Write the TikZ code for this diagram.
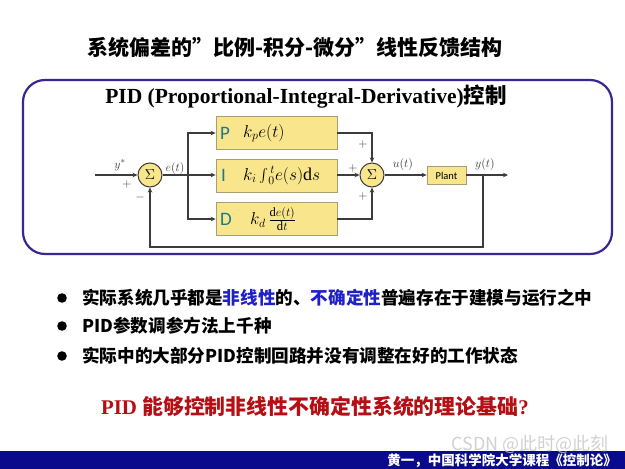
\documentclass[tikz,border=0pt]{standalone}
\usepackage{fontspec}
\setmainfont{Liberation Serif}
\newfontfamily\cjk{Noto Sans CJK SC}
\newfontfamily\calfont{Carlito}
\usetikzlibrary{arrows.meta}
\definecolor{boxy}{HTML}{F8E58C}
\definecolor{boxedge}{HTML}{A89E70}
\definecolor{lnc}{HTML}{3C3C3C}
\definecolor{teal2}{HTML}{1A7A8A}
\definecolor{blu}{HTML}{2020C8}
\definecolor{redq}{HTML}{B40F14}
\definecolor{barc}{HTML}{0A0A8C}
\definecolor{framec}{HTML}{3B2590}
\begin{document}
\begin{tikzpicture}[x=1pt,y=-1pt,
  ln/.style={draw=lnc, line width=1.1pt},
  arr/.style={ln, -{Stealth[length=5pt,width=4.5pt]}},
  blk/.style={draw=boxedge, fill=boxy, line width=0.8pt, minimum width=121pt, minimum height=33pt, inner sep=0pt},
  sumc/.style={circle, draw=lnc, fill=boxy, line width=1pt, minimum size=24pt, inner sep=0pt, font=\fontsize{15}{16}\selectfont},
  plantb/.style={draw=boxedge, fill=boxy, line width=0.8pt, minimum width=39pt, minimum height=18pt, inner sep=0pt, font=\calfont\fontsize{10.5}{12}\selectfont},
  pid/.style={text=teal2, font=\calfont\fontsize{19}{21}\selectfont, anchor=west, inner sep=0pt},
  mth/.style={font=\fontsize{18}{20}\selectfont, anchor=west, inner sep=0pt},
  lbl/.style={font=\fontsize{13}{15}\selectfont, text=lnc, inner sep=0pt},
  bul/.style={anchor=west, inner sep=0pt, font=\cjk\bfseries\fontsize{17.6}{22}\selectfont}
]
\useasboundingbox (0,0) rectangle (625,469);
\fill[white] (0,0) rectangle (625,469);

% title
\node[inner sep=0pt] (title) at (295,47) {\cjk\bfseries\fontsize{21}{25}\selectfont 系统偏差的”比例-积分-微分”线性反馈结构};

% frame
\draw[draw=framec, line width=2.2pt, rounded corners=22pt] (23,80) rectangle (612,254);
\node[inner sep=0pt] (hdr) at (306,97) {\bfseries\fontsize{21.5}{24}\selectfont PID (Proportional-Integral-Derivative){\cjk\bfseries 控制}};

% blocks
\node[sumc] (s1) at (150,175) {$\Sigma$};
\node[blk] (P) at (276.5,133) {};
\node[blk] (I) at (276.5,175.5) {};
\node[blk] (D) at (276.5,219) {};
\node[sumc] (s2) at (372,175) {$\Sigma$};
\node[plantb] (plant) at (446.5,175.5) {Plant};

\node[pid] (Pl) at (220,133) {P};
\node[pid] (Il) at (221,175.5) {I};
\node[pid] (Dl) at (220,219) {D};
\node[mth] (Pm) at (243,133) {$k_p e(t)$};
\node[mth] (Im) at (243,175.5) {$k_i\,\raisebox{-2pt}{\scalebox{1.35}{$\int$}}{}_0^{\,t} e(s)\mathrm{d}s$};
\node[mth] (Dm) at (250,219) {$k_d\,\frac{\mathrm{d}e(t)}{\mathrm{d}t}$};

% connectors
\coordinate (in) at (95,175);
\coordinate (br) at (188,175);
\coordinate (out) at (508,175);
\coordinate (fb) at (483,175);
\coordinate (fbd) at (483,247);
\draw[arr] (in) -- (s1);
\draw[ln] (s1) -- (br);
\draw[arr] (br) -- (I.west |- br);
\draw[arr] (br) |- (P.west);
\draw[arr] (br) |- (D.west);
\draw[arr] (P.east) -| (s2.north);
\draw[arr] (I.east |- s2) -- (s2.west);
\draw[arr] (D.east) -| (s2.south);
\draw[arr] (s2) -- (plant.west |- s2);
\draw[arr] (plant.east |- s2) -- (out);
\draw[arr] (fb) -- (fbd) -| (s1.south);

% labels
\node[lbl] (ys) at (120,165) {$y^{*}$};
\node[lbl] (pl1) at (127,184) {$+$};
\node[lbl] (mi1) at (140,197) {$-$};
\node[lbl] (et) at (175,168) {$e(t)$};
\node[lbl] (pp) at (363,144) {$+$};
\node[lbl] (pi) at (353,168) {$+$};
\node[lbl] (pd) at (363,196) {$+$};
\node[lbl] (ut) at (403,164) {$u(t)$};
\node[lbl] (yt) at (485,164) {$y(t)$};

% bullets
\fill[black] (62,298) circle (4.8pt);
\fill[black] (62,326) circle (4.8pt);
\fill[black] (62,356) circle (4.8pt);
\node[bul] (b1) at (82,298) {实际系统几乎都是\textcolor{blu}{非线性}的、\textcolor{blu}{不确定性}普遍存在于建模与运行之中};
\node[bul] (b2) at (82,326) {PID参数调参方法上千种};
\node[bul] (b3) at (82,356) {实际中的大部分PID控制回路并没有调整在好的工作状态};

% question
\node[inner sep=0pt, text=redq] (q) at (315,407) {\bfseries\fontsize{20.9}{24}\selectfont PID {\cjk\bfseries 能够控制非线性不确定性系统的理论基础}?};

% bottom bar
\fill[barc] (0,451) rectangle (625,469);
\node[anchor=east, inner sep=0pt, text=white] (foot) at (617,461) {\cjk\bfseries\fontsize{13.5}{15}\selectfont 黄一，中国科学院大学课程《控制论》};
\node[inner sep=0pt, text=gray!45, opacity=0.8] (wm) at (530,444) {\cjk\fontsize{18}{20}\selectfont CSDN @此时@此刻};
\end{tikzpicture}
\end{document}
